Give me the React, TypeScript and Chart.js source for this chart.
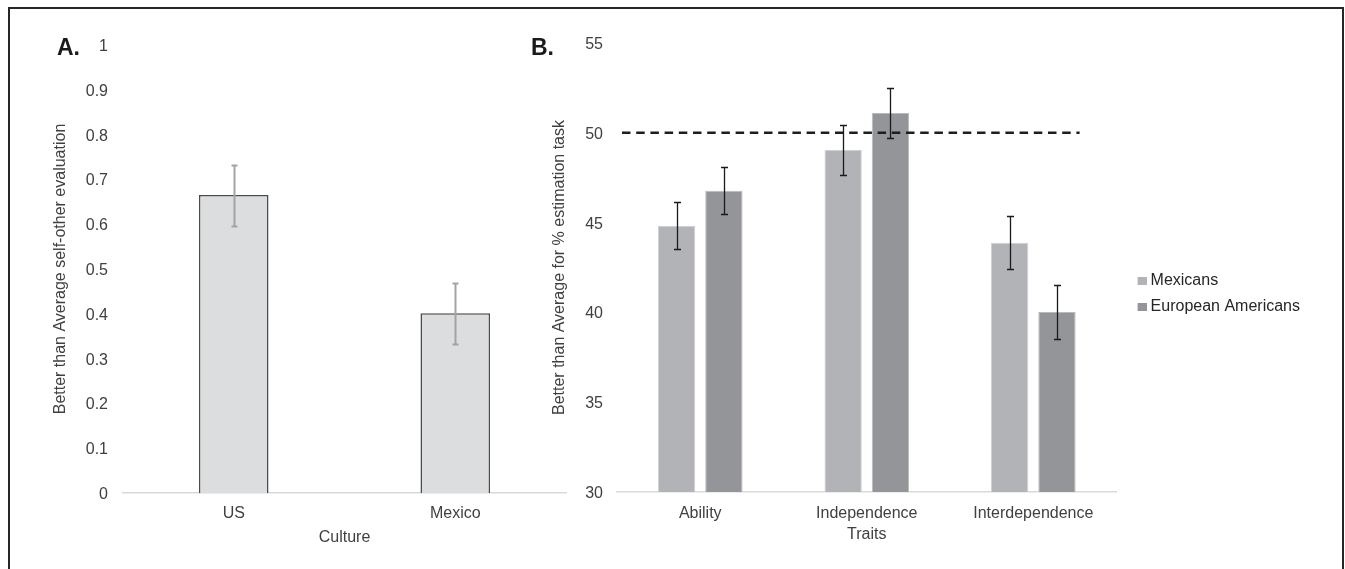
import React, { useEffect, useRef } from 'react';
import { Chart, registerables } from 'chart.js';

Chart.register(...registerables);

// ---------- Panel A data ----------
const cultures = ['US', 'Mexico'];
const cultureMeans = [0.665, 0.401];
const cultureErrors = [0.068, 0.068];
const yTicksA = [0, 0.1, 0.2, 0.3, 0.4, 0.5, 0.6, 0.7, 0.8, 0.9, 1];
const yTickLabelsA = ['0', '0.1', '0.2', '0.3', '0.4', '0.5', '0.6', '0.7', '0.8', '0.9', '1'];

// ---------- Panel B data ----------
const traitCategories = ['Ability', 'Independence', 'Interdependence'];
const seriesNames = ['Mexicans', 'European Americans'];
const mexicansMeans = [44.83, 49.06, 43.88];
const mexicansErrors = [1.3, 1.39, 1.48];
const europeanMeans = [46.78, 51.1, 40.02];
const europeanErrors = [1.3, 1.39, 1.5];
const yTicksB = [30, 35, 40, 45, 50, 55];
const yTickLabelsB = ['30', '35', '40', '45', '50', '55'];
const referenceLine = [50];

const FONT = "'Liberation Sans', Arial, Helvetica, sans-serif";
const TEXT = '#404040';

function errorBarPlugin(errors: number[][], color: string, width: number, cap: number) {
  return {
    id: 'errorBars',
    afterDatasetsDraw(chart: any) {
      const ctx = chart.ctx;
      const y = chart.scales.y;
      ctx.save();
      ctx.strokeStyle = color;
      ctx.lineWidth = width;
      chart.data.datasets.forEach((ds: any, i: number) => {
        const meta = chart.getDatasetMeta(i);
        meta.data.forEach((el: any, j: number) => {
          const v = ds.data[j] as number;
          const e = errors[i][j];
          const x = Math.round(el.x) + 0.5;
          const yt = Math.round(y.getPixelForValue(v + e)) + 0.5;
          const yb = Math.round(y.getPixelForValue(v - e)) + 0.5;
          ctx.beginPath();
          ctx.moveTo(x, yt);
          ctx.lineTo(x, yb);
          ctx.moveTo(x - cap / 2, yt);
          ctx.lineTo(x + cap / 2, yt);
          ctx.moveTo(x - cap / 2, yb);
          ctx.lineTo(x + cap / 2, yb);
          ctx.stroke();
        });
      });
      ctx.restore();
    },
  };
}

const refLinePlugin = {
  id: 'refLine',
  afterDatasetsDraw(chart: any) {
    const { ctx, chartArea } = chart;
    const y = chart.scales.y;
    const yp = y.getPixelForValue(referenceLine[0]);
    ctx.save();
    ctx.setLineDash([8.5, 5.7]);
    ctx.lineWidth = 2.5;
    ctx.strokeStyle = '#1e1e1e';
    ctx.beginPath();
    ctx.moveTo(chartArea.left + 5, yp);
    ctx.lineTo(chartArea.right - 37, yp);
    ctx.stroke();
    ctx.restore();
  },
};

function makeIcon(color: string) {
  const c = document.createElement('canvas');
  c.width = 24;
  c.height = 8;
  const g = c.getContext('2d')!;
  g.fillStyle = color;
  g.fillRect(15, 0, 9, 8);
  return c;
}

export default function App() {
  const refA = useRef<HTMLCanvasElement>(null);
  const refB = useRef<HTMLCanvasElement>(null);

  useEffect(() => {
    Chart.defaults.font.family = FONT;
    const chartA = new Chart(refA.current!, {
      type: 'bar',
      data: {
        labels: cultures,
        datasets: [
          {
            label: 'Culture',
            data: cultureMeans,
            backgroundColor: '#dcdddf',
            borderColor: '#4a4a4a',
            borderWidth: 1.5,
            categoryPercentage: 1,
            barPercentage: 0.314,
          },
        ],
      },
      options: {
        animation: false,
        responsive: false,
        layout: { padding: { left: 0, top: 45, right: 14, bottom: 0 } },
        plugins: { legend: { display: false }, tooltip: { enabled: false } },
        scales: {
          x: {
            grid: { display: false, drawTicks: false },
            border: { display: true, color: '#d9d9d9', width: 1.5 },
            ticks: { font: { size: 16 }, color: TEXT, padding: 11.2 },
            title: { display: true, text: 'Culture', font: { size: 16 }, color: TEXT, padding: { top: 0, bottom: 21.6 } },
            afterFit: (s: any) => { s.height = 76; },
          },
          y: {
            min: 0,
            max: 1,
            grid: { display: false, drawTicks: false },
            border: { display: false },
            afterBuildTicks: (s: any) => { s.ticks = yTicksA.map((v) => ({ value: v })); },
            ticks: {
              font: { size: 16 },
              color: TEXT,
              padding: 15,
              labelOffset: 1.6,
              callback: (_v: any, i: number) => yTickLabelsA[i],
            },
            title: {
              display: true,
              text: 'Better than Average self-other evaluation',
              font: { size: 16 },
              color: TEXT,
              padding: { top: 50.8, bottom: 0 },
            },
            afterFit: (s: any) => { s.width = 123; },
          },
        },
      },
      plugins: [errorBarPlugin([cultureErrors], '#a3a3a3', 2, 6)],
    } as any);

    const icons = [makeIcon('#b2b3b6'), makeIcon('#939598')];
    const chartB = new Chart(refB.current!, {
      type: 'bar',
      data: {
        labels: traitCategories,
        datasets: [
          {
            label: seriesNames[0],
            data: mexicansMeans,
            backgroundColor: '#b2b3b6',
            borderColor: '#cfd0d2',
            borderWidth: 1,
            categoryPercentage: 0.568,
            barPercentage: 0.789,
          },
          {
            label: seriesNames[1],
            data: europeanMeans,
            backgroundColor: '#939598',
            borderColor: '#b9babc',
            borderWidth: 1,
            categoryPercentage: 0.568,
            barPercentage: 0.789,
          },
        ],
      },
      options: {
        animation: false,
        responsive: false,
        layout: { padding: { left: 0, top: 43, right: 0, bottom: 24 } },
        plugins: {
          tooltip: { enabled: false },
          legend: {
            display: true,
            position: 'right',
            align: 'center',
            labels: {
              font: { size: 16 },
              color: '#262626',
              padding: 10,
              usePointStyle: true,
              pointStyleWidth: 16,
              generateLabels: (chart: any) => {
                const items = (Chart.defaults.plugins.legend.labels as any).generateLabels(chart);
                items.forEach((it: any, i: number) => { it.pointStyle = icons[i]; });
                return items;
              },
            },
          },
        },
        scales: {
          x: {
            grid: { display: false, drawTicks: false },
            border: { display: true, color: '#d9d9d9', width: 1.5 },
            ticks: { font: { size: 16 }, color: TEXT, padding: 11.6 },
            title: { display: true, text: 'Traits', font: { size: 16 }, color: TEXT, padding: { top: 0, bottom: 1.2 } },
            afterFit: (s: any) => { s.height = 53; },
          },
          y: {
            min: 30,
            max: 55,
            grid: { display: false, drawTicks: false },
            border: { display: false },
            afterBuildTicks: (s: any) => { s.ticks = yTicksB.map((v) => ({ value: v })); },
            ticks: {
              font: { size: 16 },
              color: TEXT,
              padding: 14,
              labelOffset: 1.6,
              callback: (_v: any, i: number) => yTickLabelsB[i],
            },
            title: {
              display: true,
              text: 'Better than Average for % estimation task',
              font: { size: 16 },
              color: TEXT,
              padding: { top: 30.2, bottom: 0 },
            },
            afterFit: (s: any) => { s.width = 97; },
          },
        },
      },
      plugins: [refLinePlugin, errorBarPlugin([mexicansErrors, europeanErrors], '#1a1a1a', 1.3, 7)],
    } as any);

    return () => {
      chartA.destroy();
      chartB.destroy();
    };
  }, []);

  const panelLabel: React.CSSProperties = {
    position: 'fixed',
    top: 36,
    fontFamily: FONT,
    fontWeight: 'bold',
    fontSize: 23,
    lineHeight: '23px',
    color: '#1a1a1a',
    margin: 0,
  };

  return (
    <div>
      <div
        style={{
          position: 'fixed',
          left: 8,
          top: 7,
          width: 1336,
          height: 562,
          boxSizing: 'border-box',
          borderTop: '2px solid #262626',
          borderLeft: '2px solid #262626',
          borderRight: '2px solid #262626',
          background: '#fff',
        }}
      />
      <canvas ref={refA} width={580} height={569} style={{ position: 'fixed', left: 0, top: 0 }} />
      <canvas ref={refB} width={790} height={569} style={{ position: 'fixed', left: 520, top: 0 }} />
      <div style={{ ...panelLabel, left: 57 }}>A.</div>
      <div style={{ ...panelLabel, left: 531 }}>B.</div>
    </div>
  );
}
